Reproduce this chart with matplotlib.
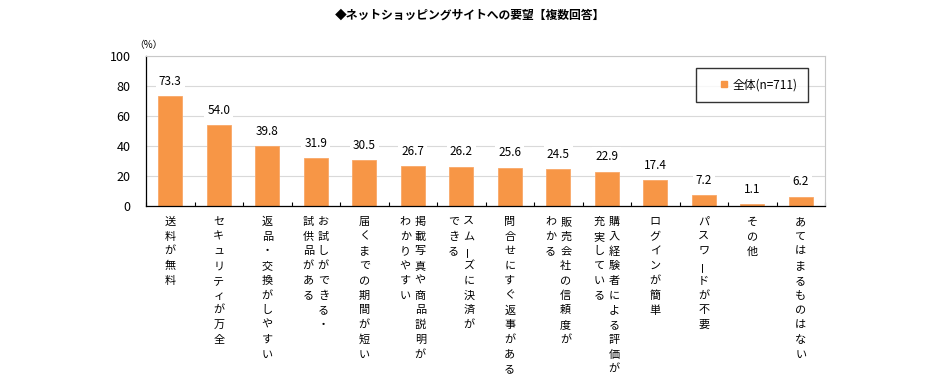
import numpy as np
import matplotlib
matplotlib.use("Agg")
import matplotlib.pyplot as plt
from matplotlib.lines import Line2D

plt.rcParams['font.family'] = ['Noto Sans CJK JP', 'DejaVu Sans']

# ---------------- data ----------------
title = "◆ネットショッピングサイトへの要望【複数回答】"
series_name = "全体(n=711)"
# "\n" separates the vertical columns (first part = right column)
categories = [
    "送料が無料",
    "セキュリティが万全",
    "返品・交換がしやすい",
    "お試しができる・\n試供品がある",
    "届くまでの期間が短い",
    "掲載写真や商品説明が\nわかりやすい",
    "スムーズに決済が\nできる",
    "問合せにすぐ返事がある",
    "販売会社の信頼度が\nわかる",
    "購入経験者による評価が\n充実している",
    "ログインが簡単",
    "パスワードが不要",
    "その他",
    "あてはまるものはない",
]
values = [73.3, 54.0, 39.8, 31.9, 30.5, 26.7, 26.2, 25.6, 24.5, 22.9, 17.4, 7.2, 1.1, 6.2]
yticks = [0, 20, 40, 60, 80, 100]

bar_color = "#F79646"

fig = plt.figure(figsize=(9.4, 3.8), dpi=100)
ax = fig.add_axes([146 / 940, 1 - 206 / 380, 679 / 940, 150 / 380])

x = np.arange(len(categories))
ax.bar(x, values, width=0.5, color=bar_color, edgecolor="#F9A868", linewidth=0.6, zorder=2)

ax.set_xlim(-0.5, len(categories) - 0.5)
ax.set_ylim(0, 100)
ax.set_yticks(yticks)
ax.tick_params(axis="y", length=0, labelsize=9, pad=11)
ax.set_xticks(np.arange(-0.5, len(categories), 1.0))
ax.set_xticklabels([])
ax.tick_params(axis="x", direction="in", length=3, width=0.8, color="black")

ax.grid(axis="y", color="#d9d9d9", linewidth=0.8, zorder=0)
ax.set_axisbelow(True)
for s in ["top", "right"]:
    ax.spines[s].set_color("#c8c8c8")
for s in ["left", "bottom"]:
    ax.spines[s].set_color("black")
    ax.spines[s].set_linewidth(0.9)

# value labels
for xi, v in zip(x, values):
    ax.annotate(f"{v:.1f}", xy=(xi, v), xytext=(0, 6), textcoords="offset points",
                ha="center", va="bottom", fontsize=8.5, zorder=3,
                bbox=dict(boxstyle="square,pad=0.25", fc="white", ec="none"))

# vertical category labels, drawn char by char
step = 10.6
for xi, lab in zip(x, categories):
    cols = lab.split("\n")
    n = len(cols)
    for ci, col in enumerate(cols):
        dx = (n - 1) / 2 * 10.8 - ci * 10.8
        for i, ch in enumerate(col):
            rot = 90 if ch == "ー" else 0
            ax.annotate(ch, xy=(xi, 0), xycoords=("data", "axes fraction"),
                        xytext=(dx, -11.5 - i * step), textcoords="offset points",
                        ha="center", va="center", fontsize=8, rotation=rot,
                        rotation_mode="anchor", annotation_clip=False)

# unit
fig.text(148 / 940, 1 - 45 / 380, "（%）", fontsize=7, ha="center", va="center")

# title
fig.text(0.5, 1 - 15 / 380, title, fontsize=8.5, fontweight="bold", ha="center", va="center")

# legend
handle = Line2D([], [], marker="s", linestyle="none", color=bar_color, markersize=5)
leg = ax.legend([handle], [series_name], loc="upper right", bbox_to_anchor=(0.975, 0.92),
                frameon=True, fancybox=False, fontsize=8.5, borderpad=0.9,
                handletextpad=-0.8, handlelength=3.0, borderaxespad=0)
leg.get_frame().set_edgecolor("black")
leg.get_frame().set_linewidth(1.0)

fig.savefig("out.png", dpi=100, facecolor="white")
